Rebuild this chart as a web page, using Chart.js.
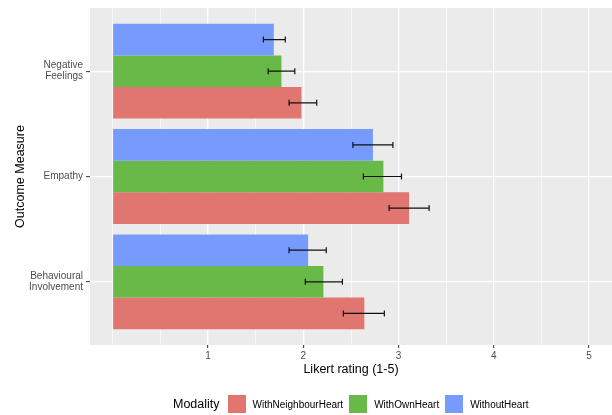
<!DOCTYPE html>
<html>
<head>
<meta charset="utf-8">
<script src="https://cdn.jsdelivr.net/npm/chart.js@4.4.1/dist/chart.umd.min.js"></script>
<style>
  html, body { margin: 0; padding: 0; background: #fff; }
  #wrap { position: relative; width: 612px; height: 415px; font-family: 'Liberation Sans', Arial, Helvetica, sans-serif; }
  #legend { position: absolute; left: 173px; top: 395px; height: 18px; display: flex; align-items: center; font-size: 10px; color: #000; }
  #legend .ttl { font-size: 12.5px; margin-right: 8px; }
  #legend .box { width: 18px; height: 18px; margin-right: 7px; }
  #legend .lbl { margin-right: 6px; }
</style>
</head>
<body>
<div id="wrap">
  <canvas id="chart" width="612" height="415"></canvas>
  <div id="legend"></div>
</div>
<script>
var categories = ['Negative Feelings', 'Empathy', 'Behavioural Involvement'];

// top to bottom inside each group
var seriesNames = ['WithoutHeart', 'WithOwnHeart', 'WithNeighbourHeart'];
var seriesColors = ['#779BFD', '#68B947', '#E0766F'];

var withoutHeart = [1.69, 2.73, 2.05];
var withoutHeartLow = [1.58, 2.52, 1.85];
var withoutHeartHigh = [1.81, 2.94, 2.24];

var withOwnHeart = [1.77, 2.84, 2.21];
var withOwnHeartLow = [1.63, 2.63, 2.02];
var withOwnHeartHigh = [1.91, 3.03, 2.41];

var withNeighbourHeart = [1.98, 3.11, 2.64];
var withNeighbourHeartLow = [1.85, 2.90, 2.42];
var withNeighbourHeartHigh = [2.14, 3.32, 2.85];

var xGridValues = [0, 0.5, 1, 1.5, 2, 2.5, 3, 3.5, 4, 4.5, 5];
var xTickLabels = [1, 2, 3, 4, 5];

var seriesValues = [withoutHeart, withOwnHeart, withNeighbourHeart];
var seriesLow = [withoutHeartLow, withOwnHeartLow, withNeighbourHeartLow];
var seriesHigh = [withoutHeartHigh, withOwnHeartHigh, withNeighbourHeartHigh];

var FONT = "'Liberation Sans', Arial, Helvetica, sans-serif";
Chart.defaults.font.family = FONT;

function isMajor(ctx) {
  return ctx.tick && xTickLabels.indexOf(ctx.tick.value) !== -1;
}

var panelBg = {
  id: 'panelBg',
  beforeDraw: function(chart) {
    var a = chart.chartArea, c = chart.ctx;
    c.save();
    c.fillStyle = '#EBEBEB';
    c.fillRect(a.left, a.top, a.right - a.left, a.bottom - a.top);
    c.restore();
  }
};

var errorBars = {
  id: 'errorBars',
  afterDatasetsDraw: function(chart) {
    var c = chart.ctx, xs = chart.scales.x;
    c.save();
    c.strokeStyle = '#111';
    c.lineWidth = 1.2;
    chart.data.datasets.forEach(function(ds, i) {
      var meta = chart.getDatasetMeta(i);
      meta.data.forEach(function(bar, j) {
        var x0 = xs.getPixelForValue(seriesLow[i][j]);
        var x1 = xs.getPixelForValue(seriesHigh[i][j]);
        var y = bar.y;
        c.beginPath();
        c.moveTo(x0, y); c.lineTo(x1, y);
        c.moveTo(x0, y - 3); c.lineTo(x0, y + 3);
        c.moveTo(x1, y - 3); c.lineTo(x1, y + 3);
        c.stroke();
      });
    });
    c.restore();
  }
};

var datasets = seriesNames.map(function(name, i) {
  return {
    label: name,
    data: seriesValues[i].map(function(v, j) { return { x: v, y: j }; }),
    backgroundColor: seriesColors[i],
    borderWidth: 0,
    categoryPercentage: 0.9,
    barPercentage: 1
  };
});

new Chart(document.getElementById('chart'), {
  type: 'bar',
  data: { datasets: datasets },
  plugins: [panelBg, errorBars],
  options: {
    indexAxis: 'y',
    responsive: false,
    animation: false,
    layout: { padding: { left: 0, right: 0, top: 8, bottom: 37 } },
    plugins: { legend: { display: false }, tooltip: { enabled: false } },
    scales: {
      x: {
        type: 'linear', min: -0.24, max: 5.24,
        afterBuildTicks: function(s) { s.ticks = xGridValues.map(function(v) { return { value: v }; }); },
        afterFit: function(s) { s.height = 33; s.paddingLeft = 0; s.paddingRight = 0; },
        grid: {
          color: '#fff',
          lineWidth: function(ctx) { return isMajor(ctx) ? 1.3 : 0.6; },
          tickLength: 3,
          tickWidth: 1,
          tickColor: function(ctx) { return isMajor(ctx) ? '#333' : 'rgba(0,0,0,0)'; }
        },
        border: { display: false },
        ticks: {
          autoSkip: false, maxRotation: 0, padding: 2,
          color: '#4D4D4D', font: { size: 10 },
          callback: function(v) { return xTickLabels.indexOf(v) !== -1 ? String(v) : ''; }
        },
        title: { display: true, text: 'Likert rating (1-5)', color: '#000', font: { size: 12.5 }, padding: { top: 0, bottom: 1 } }
      },
      y: {
        type: 'linear', min: -0.6, max: 2.6, reverse: true,
        offset: false,
        afterBuildTicks: function(s) { s.ticks = categories.map(function(_, i) { return { value: i }; }); },
        afterFit: function(s) { s.width = 90; s.paddingTop = 0; s.paddingBottom = 0; },
        grid: { offset: false, color: '#fff', lineWidth: 1.3, tickLength: 4, tickWidth: 1, tickColor: '#333' },
        border: { display: false },
        ticks: {
          autoSkip: false, padding: 3,
          color: '#4D4D4D', font: { size: 10, lineHeight: 1.1 },
          callback: function(v) { return categories[v].split(' '); }
        },
        title: { display: true, text: 'Outcome Measure', color: '#000', font: { size: 12.5 }, padding: { top: 13, bottom: 0 } }
      }
    }
  }
});

// legend in ggplot order
var legend = document.getElementById('legend');
var html = '<span class="ttl">Modality</span>';
for (var k = seriesNames.length - 1; k >= 0; k--) {
  html += '<span class="box" style="background:' + seriesColors[k] + '"></span><span class="lbl">' + seriesNames[k] + '</span>';
}
legend.innerHTML = html;
</script>
</body>
</html>
